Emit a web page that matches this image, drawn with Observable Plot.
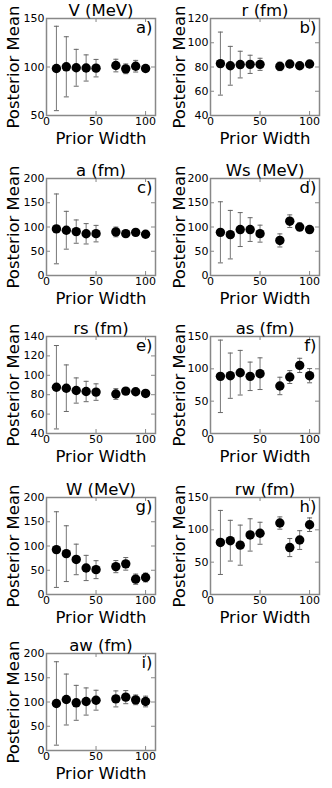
<!DOCTYPE html>
<html><head><meta charset="utf-8">
<script src="https://cdn.jsdelivr.net/npm/d3@7"></script>
<script src="https://cdn.jsdelivr.net/npm/@observablehq/plot@0.6"></script>
<style>
body{margin:0;background:#fff;}
#wrap{position:relative;width:332px;height:788px;overflow:hidden;font-family:"DejaVu Sans",sans-serif;background:#fff;}
#wrap svg{position:absolute;background:transparent !important;}
</style></head><body><div id="wrap"></div>
<script>
const priorWidth = [10, 20, 30, 40, 50, 70, 80, 90, 100];
const xTicks = [0, 50, 100];
const titles = ["V (MeV)", "r (fm)", "a (fm)", "Ws (MeV)", "rs (fm)", "as (fm)", "W (MeV)", "rw (fm)", "aw (fm)"];
const letters = ["a)", "b)", "c)", "d)", "e)", "f)", "g)", "h)", "i)"];
const yLabel = "Posterior Mean";
const xLabel = "Prior Width";

const meanV  = [98.5, 100.2, 99.2, 99, 98.8, 101.5, 98.1, 100.8, 98.5];
const errV   = [43.5, 31, 19, 13.5, 9, 6.5, 5, 6, 3];
const meanR  = [82.8, 81, 82, 82.2, 82.2, 80.5, 82.5, 81, 82.5];
const errR   = [26, 16, 11, 7.5, 5, 3.5, 2, 2, 1.5];
const meanA  = [96.1, 93.3, 90.5, 86, 86.3, 89.8, 86.3, 89, 85];
const errA   = [72, 39, 24, 21, 17, 10, 3, 4, 3];
const meanWs = [89, 84.2, 94.7, 94.7, 86.3, 72.3, 112, 100, 94.7];
const errWs  = [63, 50, 35, 24.5, 17.5, 13.5, 13, 8, 5];
const meanRs = [87.7, 86.7, 84.3, 83.3, 82.7, 80.7, 83.7, 83, 81.3];
const errRs  = [43, 24, 13, 10.5, 8.5, 5.5, 2, 2, 2];
const meanAs = [88.4, 89.4, 94, 88.4, 92.5, 73.5, 87.3, 105.3, 89.4];
const errAs  = [56, 35, 34.5, 22, 24.5, 13.5, 10, 11, 11];
const meanW  = [92.6, 84.2, 72.3, 54.7, 51.2, 57.5, 63.2, 31.6, 35];
const errW   = [78, 57.5, 31.5, 26, 18.5, 12.5, 13, 10.5, 9];
const meanRw = [80.5, 83.2, 76.3, 92.1, 94.7, 110.5, 72.6, 84.2, 107.9];
const errRw  = [49.5, 31.5, 31, 25, 17, 9.5, 14, 14.5, 10.5];
const meanAw = [97, 105.1, 98.3, 101, 103.7, 106.4, 110, 104.4, 101];
const errAw  = [86, 52.5, 36, 28, 20.5, 16.5, 13.5, 10, 11];

const yTicksV  = [50, 100, 150];
const yTicksR  = [40, 60, 80, 100, 120];
const yTicks200 = [0, 50, 100, 150, 200];
const yTicksRs = [40, 60, 80, 100, 120, 140];
const yTicks150 = [0, 50, 100, 150];

const panels = [
  [meanV, errV, yTicksV],
  [meanR, errR, yTicksR],
  [meanA, errA, yTicks200],
  [meanWs, errWs, yTicks200],
  [meanRs, errRs, yTicksRs],
  [meanAs, errAs, yTicks150],
  [meanW, errW, yTicks200],
  [meanRw, errRw, yTicks150],
  [meanAw, errAw, yTicks200]
];

const rowFrameTops = [18, 178, 336, 497, 653];

const cap = {draw(ctx, size) { const r = Math.sqrt(size / Math.PI); ctx.moveTo(-r, 0); ctx.lineTo(r, 0); }};

const wrap = document.getElementById("wrap");
panels.forEach(([mean, err, yTicks], i) => {
  const col = i % 2, row = Math.floor(i / 2);
  const data = priorWidth.map((x, j) => ({x, y: mean[j], e: err[j]}));
  const ml = col ? 44 : 46, mr = col ? 13 : 11, mt = 18, fh = 97, mb = 43;
  const fw = 166 - ml - mr;
  const big = 16.5;
  const svg = Plot.plot({
    width: 166, height: mt + fh + mb,
    marginLeft: ml, marginRight: mr, marginTop: mt, marginBottom: mb,
    style: {fontFamily: "DejaVu Sans", background: "transparent", overflow: "visible", color: "#000"},
    x: {domain: [0, 110]},
    y: {domain: [yTicks[0], yTicks[yTicks.length - 1]]},
    marks: [
      Plot.axisX(xTicks, {tickSize: 0, tickPadding: 2, fontSize: 11, label: null}),
      Plot.axisY(yTicks, {tickSize: 0, tickPadding: 2, fontSize: 11, label: null}),
      Plot.tickX(xTicks, {x: d => d, insetTop: fh - 4, stroke: "#888"}),
      Plot.tickX(xTicks, {x: d => d, insetBottom: fh - 4, stroke: "#888"}),
      Plot.tickY(yTicks, {y: d => d, insetRight: fw - 4, stroke: "#888"}),
      Plot.tickY(yTicks, {y: d => d, insetLeft: fw - 4, stroke: "#888"}),
      Plot.ruleX(data, {x: "x", y1: d => d.y - d.e, y2: d => d.y + d.e, stroke: "#777", strokeWidth: 1}),
      Plot.dot(data, {x: "x", y: d => d.y - d.e, symbol: cap, r: 2.5, fill: "none", stroke: "#666", strokeWidth: 1}),
      Plot.dot(data, {x: "x", y: d => d.y + d.e, symbol: cap, r: 2.5, fill: "none", stroke: "#666", strokeWidth: 1}),
      Plot.dot(data, {x: "x", y: "y", r: 4.7, fill: "#000", stroke: null}),
      Plot.frame({stroke: "#888", strokeWidth: 1.5}),
      Plot.text([titles[i]], {frameAnchor: "top", textAnchor: "middle", lineAnchor: "bottom", dy: -3, fontSize: big, fill: "#000"}),
      Plot.text([letters[i]], {frameAnchor: "top-right", textAnchor: "end", lineAnchor: "top", dx: -3, dy: 2.5, fontSize: big, fill: "#000"}),
      Plot.text([yLabel], {frameAnchor: "left", textAnchor: "middle", lineAnchor: "middle", rotate: -90, dx: -(ml - 13), fontSize: big, fill: "#000"}),
      Plot.text([xLabel], {frameAnchor: "bottom", textAnchor: "middle", lineAnchor: "middle", dy: 23, fontSize: big, fill: "#000"})
    ]
  });
  svg.style.left = (col * 166) + "px";
  svg.style.top = (rowFrameTops[row] - mt) + "px";
  wrap.appendChild(svg);
});
</script>
</body></html>
